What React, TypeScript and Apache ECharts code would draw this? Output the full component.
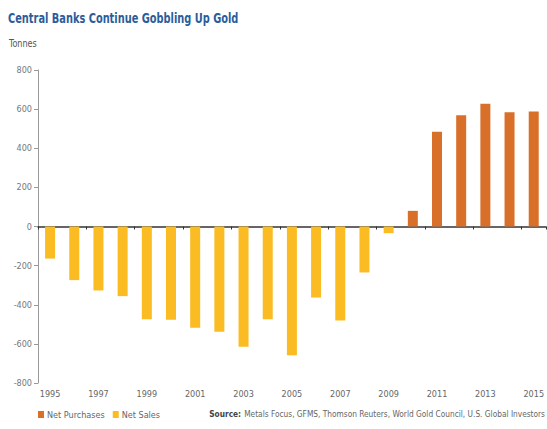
import React, { useEffect, useRef } from "react";
import * as echarts from "echarts";

const years = ["1995","1996","1997","1998","1999","2000","2001","2002","2003","2004","2005","2006","2007","2008","2009","2010","2011","2012","2013","2014","2015"];
const netSales = [-164,-274,-327,-356,-474,-477,-518,-538,-615,-474,-658,-363,-480,-235,-34,null,null,null,null,null,null];
const netPurchases = [null,null,null,null,null,null,null,null,null,null,null,null,null,null,null,80,484,569,627,584,588];
const yTicks = { min: -800, max: 800, interval: 200 };

const FONT = "'Liberation Sans Narrow', 'DejaVu Sans Condensed', 'Roboto Condensed', 'Liberation Sans', sans-serif";

export default function App() {
  const ref = useRef<HTMLDivElement>(null);
  useEffect(() => {
    const chart = echarts.init(ref.current!, null, { renderer: "svg" });
    chart.setOption({
      animation: false,
      textStyle: { fontFamily: FONT },
      legend: {
        left: 33,
        top: 405,
        itemWidth: 6,
        itemHeight: 7,
        itemGap: 8,
        icon: "rect",
        textStyle: { fontFamily: FONT, fontSize: 9, color: "#666", padding: [0, 0, 0, -2] },
        data: ["Net Purchases", "Net Sales"],
      },
      graphic: [
        {
          type: "text",
          x: 8,
          y: 11,
          scaleX: 0.78,
          style: {
            text: "Central Banks Continue Gobbling Up Gold",
            fontFamily: FONT,
            fontSize: 14,
            fontWeight: "bold",
            fill: "#2c5c9a",
            verticalAlign: "top",
          },
        },
        {
          type: "text",
          x: 9,
          y: 38,
          scaleX: 0.9,
          style: { text: "Tonnes", fontFamily: FONT, fontSize: 10, fill: "#555", verticalAlign: "top" },
        },
        {
          type: "text",
          x: 545,
          y: 409,
          scaleX: 0.92,
          style: {
            text: "{b|Source:} Metals Focus, GFMS, Thomson Reuters, World Gold Council, U.S. Global Investors",
            fontFamily: FONT,
            fontSize: 9,
            fill: "#666",
            align: "right",
            verticalAlign: "top",
            rich: { b: { fontFamily: FONT, fontSize: 9, fontWeight: "bold", fill: "#444" } },
          },
        },
      ],
      grid: { left: 38, right: 0, top: 70, bottom: 46 },
      xAxis: [
        {
          type: "category",
          data: years,
          position: "bottom",
          axisLine: { show: false, onZero: false },
          axisTick: { show: false },
          axisLabel: { interval: 1, fontFamily: FONT, fontSize: 9, color: "#666", margin: 6 },
        },
        {
          type: "category",
          data: years,
          position: "top",
          axisLine: { show: true, onZero: true, lineStyle: { color: "#333", width: 1.5 } },
          axisTick: { show: true, inside: true, length: 3, lineStyle: { color: "#333" } },
          axisLabel: { show: false },
        },
      ],
      yAxis: {
        type: "value",
        min: yTicks.min,
        max: yTicks.max,
        interval: yTicks.interval,
        splitLine: { show: false },
        axisLine: { show: true, lineStyle: { color: "#999" } },
        axisTick: { show: true, length: 4, lineStyle: { color: "#999" } },
        axisLabel: { fontFamily: FONT, fontSize: 9, color: "#777", margin: 6 },
      },
      series: [
        {
          name: "Net Purchases",
          type: "bar",
          stack: "a",
          data: netPurchases,
          barWidth: 10,
          itemStyle: { color: "#d8702a" },
        },
        {
          name: "Net Sales",
          type: "bar",
          stack: "a",
          data: netSales,
          barWidth: 10,
          itemStyle: { color: "#fbbb22" },
        },
      ],
    });
    return () => chart.dispose();
  }, []);
  return <div ref={ref} style={{ width: 547, height: 429, position: "absolute", left: 0, top: 0 }} />;
}
